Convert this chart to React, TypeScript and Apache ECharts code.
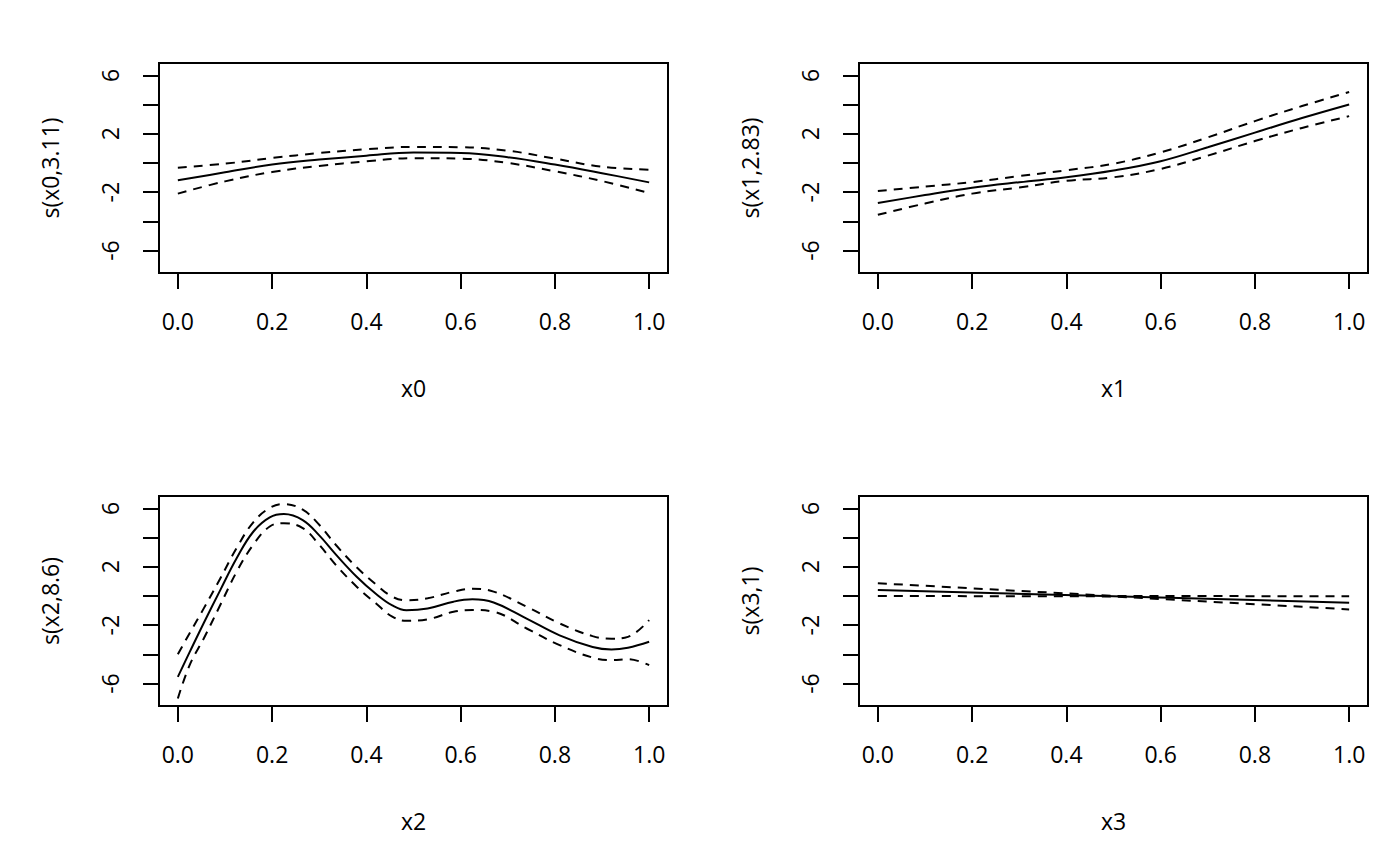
import React, { useEffect, useRef } from "react";
import * as echarts from "echarts";

// ---- data ----
const X10 = [0, 0.1, 0.2, 0.3, 0.4, 0.5, 0.6, 0.7, 0.8, 0.9, 1.0];

const s0Fit = [-1.19, -0.64, -0.11, 0.23, 0.5, 0.71, 0.68, 0.39, -0.11, -0.7, -1.33];
const s0Up = [-0.32, -0.05, 0.34, 0.68, 0.94, 1.1, 1.08, 0.84, 0.3, -0.26, -0.46];
const s0Lo = [-2.1, -1.26, -0.62, -0.2, 0.11, 0.33, 0.3, 0.0, -0.57, -1.24, -2.06];

const s1Fit = [-2.75, -2.2, -1.7, -1.32, -0.98, -0.52, 0.12, 1.08, 2.08, 3.08, 4.01];
const s1Up = [-1.92, -1.62, -1.31, -0.9, -0.5, -0.05, 0.73, 1.75, 2.87, 3.9, 4.86];
const s1Lo = [-3.55, -2.78, -2.1, -1.68, -1.22, -0.98, -0.41, 0.5, 1.5, 2.4, 3.21];

const X2 = [0, 0.025, 0.055, 0.09, 0.125, 0.16, 0.195, 0.225, 0.265, 0.3, 0.335, 0.38, 0.42, 0.455, 0.485, 0.53, 0.585, 0.625, 0.67, 0.74, 0.81, 0.88, 0.92, 0.955, 1.0];
const s2Fit = [-5.54, -3.85, -1.85, 0.4, 2.6, 4.4, 5.38, 5.61, 5.2, 4.15, 2.85, 1.3, 0.15, -0.65, -0.98, -0.86, -0.39, -0.23, -0.45, -1.55, -2.7, -3.5, -3.67, -3.55, -3.14];
const s2Up = [-4.0, -2.55, -0.85, 1.2, 3.3, 5.05, 6.03, 6.3, 5.91, 4.88, 3.51, 1.95, 0.8, -0.05, -0.3, -0.16, 0.3, 0.5, 0.3, -0.73, -1.88, -2.75, -2.93, -2.8, -1.65];
const s2Lo = [-7.03, -4.74, -2.91, -0.62, 1.67, 3.51, 4.76, 4.99, 4.65, 3.51, 2.13, 0.62, -0.5, -1.42, -1.7, -1.6, -1.08, -0.96, -1.08, -2.23, -3.37, -4.22, -4.4, -4.33, -4.74];

const X3 = [0, 0.5, 1.0];
const s3Fit = [0.41, -0.02, -0.46];
const s3Up = [0.87, 0.0, -0.02];
const s3Lo = [0.0, -0.03, -0.92];

const xTicks = [0, 0.2, 0.4, 0.6, 0.8, 1.0];
const yTicks = [-6, -4, -2, 0, 2, 4, 6];
const yTickLabels = [-6, -2, 2, 6];

const xNames = ["x0", "x1", "x2", "x3"];
const yNames = ["s(x0,3.11)", "s(x1,2.83)", "s(x2,8.6)", "s(x3,1)"];

const panels = [
  { xs: X10, fit: s0Fit, up: s0Up, lo: s0Lo, smooth: 0.4 },
  { xs: X10, fit: s1Fit, up: s1Up, lo: s1Lo, smooth: 0.4 },
  { xs: X2, fit: s2Fit, up: s2Up, lo: s2Lo, smooth: 0.4 },
  { xs: X3, fit: s3Fit, up: s3Up, lo: s3Lo, smooth: 0 },
];

const FONT = "Open Sans";
const FS = 23;

export default function App() {
  const ref = useRef<HTMLDivElement>(null);
  useEffect(() => {
    if (!ref.current) return;
    const chart = echarts.init(ref.current, undefined, { renderer: "svg" });
    const grids: any[] = [];
    const xAxes: any[] = [];
    const yAxes: any[] = [];
    const series: any[] = [];
    panels.forEach((p, i) => {
      const c = i % 2;
      const r = Math.floor(i / 2);
      grids.push({
        left: 159 + 700 * c,
        top: 63 + 433 * r,
        width: 509,
        height: 210,
        show: true,
        borderColor: "#000",
        borderWidth: 2,
        backgroundColor: "transparent",
      });
      xAxes.push({
        type: "value",
        gridIndex: i,
        position: "bottom",
        min: -0.04,
        max: 1.04,
        axisLine: { show: false, onZero: false },
        splitLine: { show: false },
        axisTick: {
          show: true,
          inside: false,
          length: 16,
          customValues: xTicks,
          lineStyle: { color: "#000", width: 2 },
        },
        axisLabel: {
          show: true,
          customValues: xTicks,
          margin: 36,
          color: "#000",
          fontFamily: FONT,
          fontSize: FS,
          formatter: (v: number) => v.toFixed(1),
        },
        name: xNames[i],
        nameLocation: "middle",
        nameGap: 103,
        nameTextStyle: { color: "#000", fontFamily: FONT, fontSize: FS },
      });
      yAxes.push({
        type: "value",
        gridIndex: i,
        position: "left",
        min: -7.54,
        max: 6.85,
        axisLine: { show: false, onZero: false },
        splitLine: { show: false },
        axisTick: {
          show: true,
          inside: false,
          length: 16,
          customValues: yTicks,
          lineStyle: { color: "#000", width: 2 },
        },
        axisLabel: {
          show: true,
          customValues: yTickLabels,
          rotate: 90,
          margin: 38,
          color: "#000",
          fontFamily: FONT,
          fontSize: FS,
        },
        name: yNames[i],
        nameLocation: "middle",
        nameGap: 98,
        nameTextStyle: { color: "#000", fontFamily: FONT, fontSize: FS },
      });
      const mk = (vals: number[], dashed: boolean) => ({
        type: "line",
        xAxisIndex: i,
        yAxisIndex: i,
        data: p.xs.map((x, k) => [x, vals[k]]),
        showSymbol: false,
        symbol: "none",
        smooth: p.smooth > 0 ? p.smooth : false,
        lineStyle: { color: "#000", width: 2, type: dashed ? [9, 7] : "solid" },
        silent: true,
      });
      series.push(mk(p.fit, false), mk(p.up, true), mk(p.lo, true));
    });
    chart.setOption({
      animation: false,
      backgroundColor: "#fff",
      grid: grids,
      xAxis: xAxes,
      yAxis: yAxes,
      series,
    });
    return () => chart.dispose();
  }, []);
  return (
    <div
      ref={ref}
      style={{ position: "absolute", left: 0, top: 0, width: 1400, height: 866 }}
    />
  );
}
